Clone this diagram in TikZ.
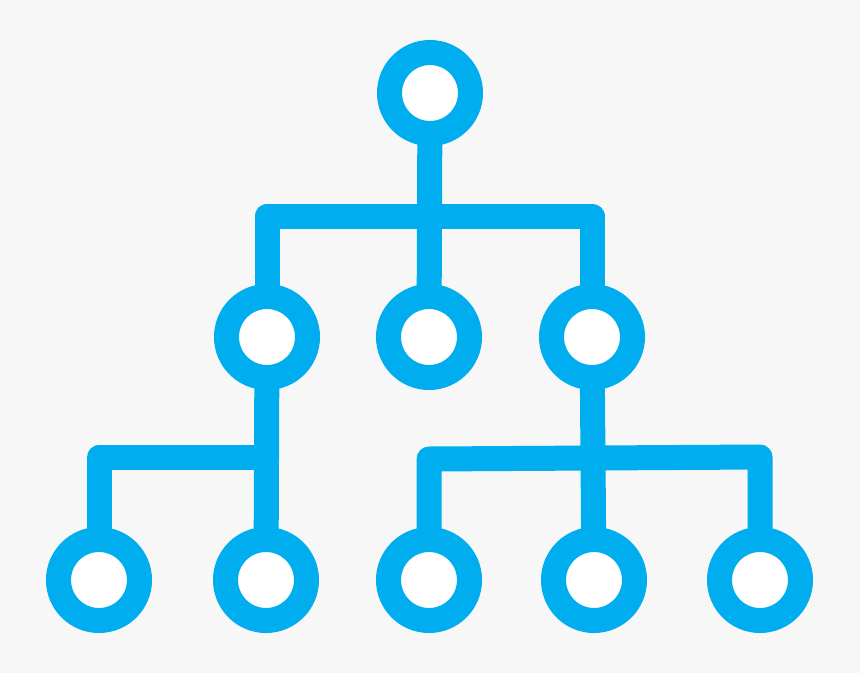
\documentclass[tikz,border=0pt]{standalone}
\usetikzlibrary{backgrounds}
\definecolor{iconblue}{HTML}{00AEEF}
\definecolor{bgc}{HTML}{F7F7F7}
\tikzset{
  ring/.style={circle, draw=iconblue, fill=white, line width=25pt, minimum size=81pt, inner sep=0pt},
  link/.style={draw=iconblue, line width=25pt, line join=round, line cap=butt}
}
\begin{document}
\begin{tikzpicture}[x=1pt,y=-1pt]
\useasboundingbox (0,0) rectangle (860,673);
\node[ring] (t)  at (430,93) {};
\node[ring] (m1) at (267,337) {};
\node[ring] (m2) at (429,337) {};
\node[ring] (m3) at (592,337) {};
\node[ring] (b1) at (99,580) {};
\node[ring] (b2) at (266,580) {};
\node[ring] (b3) at (429,580) {};
\node[ring] (b4) at (594,580) {};
\node[ring] (b5) at (760,580) {};
\begin{scope}[on background layer]
\fill[bgc] (0,0) rectangle (860,673);
\draw[link] (t.center) -- (m2.center);
\draw[link] (m1.center) -- (m1.center |- 0,216) -- (m3.center |- 0,216) -- (m3.center);
\draw[link] (m1.center) -- (b2.center);
\draw[link] (b1.center) -- (b1.center |- 0,457.5) -- (m1.center |- 0,457.5);
\draw[link] (m3.center) -- (b4.center);
\draw[link] (b3.center) -- (b3.center |- 0,459) -- (b5.center |- 0,457) -- (b5.center);
\end{scope}
\end{tikzpicture}
\end{document}
